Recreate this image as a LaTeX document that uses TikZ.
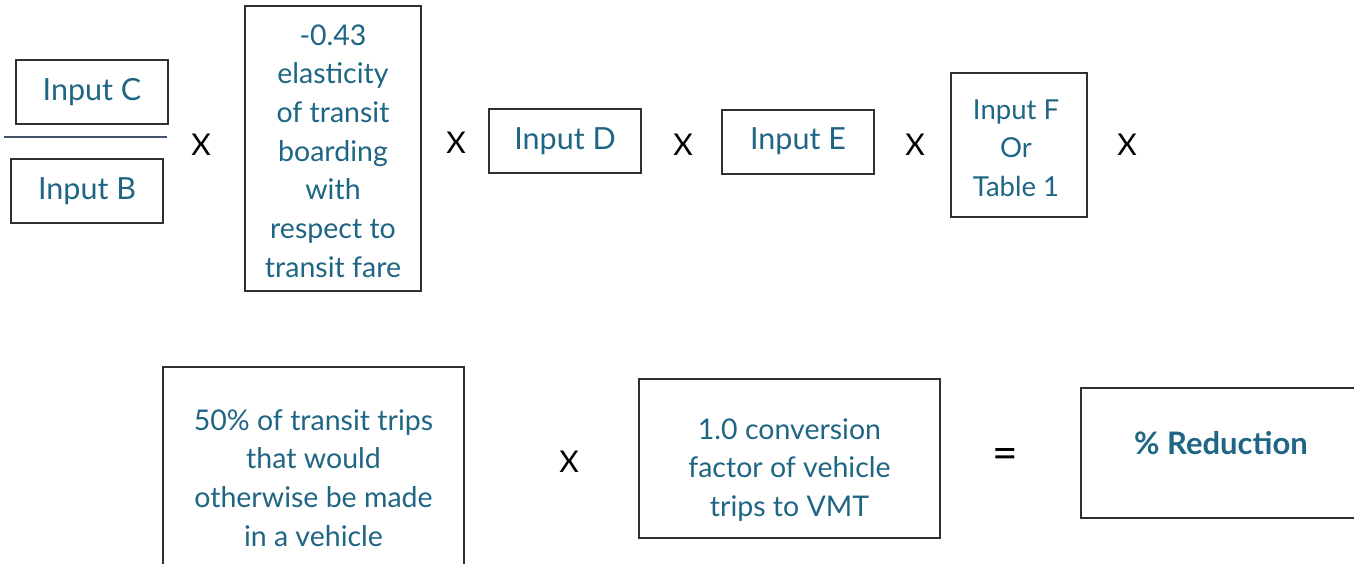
\documentclass[tikz,border=0pt]{standalone}
\usepackage{fontspec}
\setmainfont{Lato}
\definecolor{txt}{HTML}{1F6584}
\definecolor{bord}{HTML}{303030}
\definecolor{fracc}{HTML}{44546A}
\begin{document}
\begin{tikzpicture}[x=1pt,y=-1pt,
 box/.style={draw=bord, line width=1.2pt, inner sep=0pt},
 lbl/.style={text=txt, font=\fontsize{28.5}{38.7}\selectfont, align=center, inner sep=0pt},
 inlbl/.style={lbl, font=\fontsize{30.5}{38.7}\selectfont},
 op/.style={font=\fontsize{30}{34}\selectfont, text=black, inner sep=0pt}]
\useasboundingbox (0,0) rectangle (1354,563);
\clip (0,0) rectangle (1354,563);
\fill[white] (0,0) rectangle (1354,563);
% boxes
\node[box, minimum width=152, minimum height=64] (bc) at (92,92) {};
\node[box, minimum width=152, minimum height=64] (bb) at (87,191) {};
\node[box, minimum width=176, minimum height=285] (bel) at (333,148.5) {};
\node[box, minimum width=152, minimum height=64] (bd) at (565,141) {};
\node[box, minimum width=152, minimum height=64] (be) at (798,142) {};
\node[box, minimum width=136, minimum height=144] (bf) at (1019,145) {};
\node[box, minimum width=301, minimum height=213] (bp) at (313.5,473.5) {};
\node[box, minimum width=301, minimum height=159] (bv) at (789.5,458.5) {};
\node[box, minimum width=289, minimum height=130] (br) at (1225.5,453) {};
% labels
\node[inlbl] (tc) at (92,92) {Input C};
\node[inlbl] (tb) at (87,191) {Input B};
\node[lbl] (tel) at (333,151) {-0.43\\elasticity\\of transit\\boarding\\with\\respect to\\transit fare};
\node[inlbl] (td) at (565,141) {Input D};
\node[inlbl] (te) at (798,141) {Input E};
\node[lbl, font=\fontsize{27.5}{38.7}\selectfont] (tf) at (1016,148) {Input F\\Or\\Table 1};
\node[lbl] (tp) at (313.5,478) {50\% of transit trips\\that would\\otherwise be made\\in a vehicle};
\node[lbl] (tv) at (789.5,470) {1.0 conversion\\factor of vehicle\\trips to VMT};
\node[lbl, font=\bfseries\fontsize{31}{38.7}\selectfont] (tr) at (1221,443) {\% Reduction};
% fraction bar
\coordinate (fl) at (4,137);
\coordinate (fr) at (167,137);
\draw[fracc, line width=1.4pt] (fl) -- (fr);
% operators
\node[op] (x1) at (201,145) {X};
\node[op] (x2) at (456,143) {X};
\node[op] (x3) at (683,145) {X};
\node[op] (x4) at (915,145) {X};
\node[op] (x5) at (1127,145) {X};
\node[op] (x6) at (569,462) {X};
\node[op, font=\fontsize{44}{44}\selectfont] (eq) at (1005,458) {=};
\end{tikzpicture}
\end{document}
